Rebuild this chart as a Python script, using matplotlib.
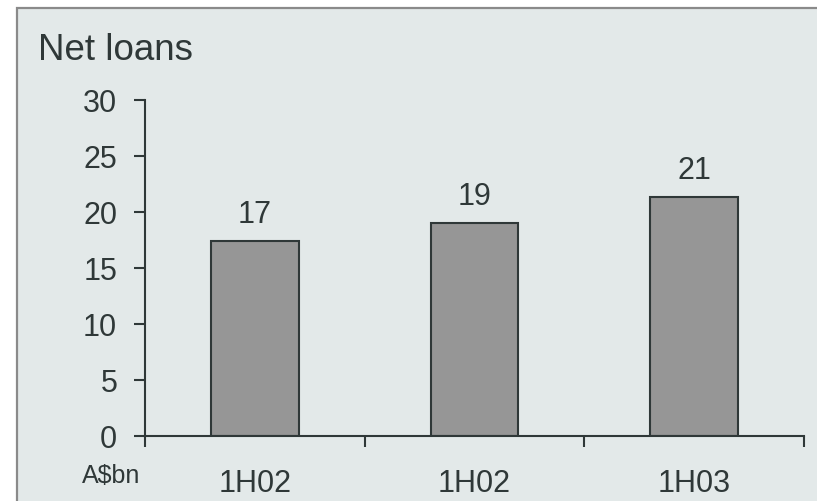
import numpy as np
import matplotlib.pyplot as plt
from matplotlib.patches import Rectangle

plt.rcParams['font.family'] = ['Liberation Sans', 'DejaVu Sans']

periods = ['1H02', '1H02', '1H03']
net_loans = [17.4, 19.0, 21.3]
y_ticks = [0, 5, 10, 15, 20, 25, 30]

bg = '#e3e9e9'
ink = '#2f3838'
bar_color = '#969696'

W, H = 817, 501
fig = plt.figure(figsize=(W / 100, H / 100), dpi=100)
fig.patch.set_facecolor('white')

# grey panel with a thin border, open to the right and bottom
fig.patches.append(Rectangle((17 / W, -0.05), 1.1, 1 - 8 / H + 0.05,
                             transform=fig.transFigure, facecolor=bg,
                             edgecolor='#8a8a8a', linewidth=1.6, zorder=-10))

ax = fig.add_axes([145 / W, 1 - 436 / H, (804 - 145) / W, (436 - 100) / H])
ax.set_facecolor('none')

x = np.arange(len(periods))
bars = ax.bar(x, net_loans, width=0.4, color=bar_color,
              edgecolor=ink, linewidth=1.5, zorder=2)

for xi, v in zip(x, net_loans):
    ax.annotate('%.0f' % v, (xi, v), xytext=(0, 13), textcoords='offset points',
                ha='center', va='baseline', fontsize=22, color=ink)

ax.set_xlim(-0.5, len(periods) - 0.5)
ax.set_ylim(0, 30)
ax.set_yticks(y_ticks)

# labels under the bars, tick marks at the category edges
ax.set_xticks(x)
ax.set_xticklabels(periods)
ax.set_xticks(np.arange(len(periods) + 1) - 0.5, minor=True)
ax.tick_params(axis='x', which='major', length=0, pad=24, labelsize=22, labelcolor=ink)
ax.tick_params(axis='x', which='minor', length=8, width=1.5, color=ink, direction='out')
ax.tick_params(axis='y', length=8, width=1.5, color=ink, pad=12, labelsize=22, labelcolor=ink)

for side in ['top', 'right']:
    ax.spines[side].set_visible(False)
for side in ['left', 'bottom']:
    ax.spines[side].set_color(ink)
    ax.spines[side].set_linewidth(1.5)

fig.text(38 / W, 1 - 60 / H, 'Net loans', fontsize=26.5, color=ink, va='baseline')
fig.text(82 / W, 1 - 483 / H, 'A$bn', fontsize=18, color=ink, va='baseline')

fig.savefig('out.png', dpi=100, facecolor=fig.get_facecolor())
